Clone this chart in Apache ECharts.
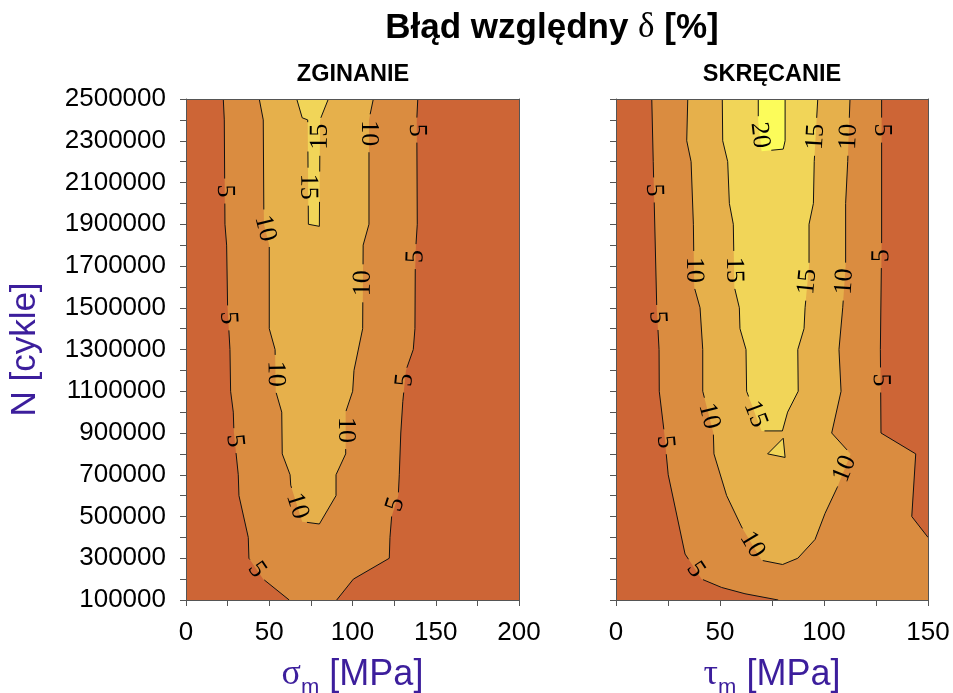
<!DOCTYPE html>
<html><head><meta charset="utf-8">
<script src="https://cdn.jsdelivr.net/npm/echarts@6/dist/echarts.min.js"></script>
<style>html,body{margin:0;padding:0;background:#fff}#c{width:953px;height:693px}</style>
</head><body><div id="c"></div>
<script>
// ---------- data ----------
const levels = [5, 10, 15, 20];
const bandColors = ['#CD6536', '#DA8C40', '#E6B04B', '#F1D558', '#FCFC5A'];
const nTickLabels = [100000, 300000, 500000, 700000, 900000, 1100000, 1300000, 1500000, 1700000, 1900000, 2100000, 2300000, 2500000];
const xTickLabelsZgin = [0, 50, 100, 150, 200];
const xTickLabelsSkr = [0, 50, 100, 150];

// ZGINANIE contour lines [sigma_m MPa, N cycles]
const zgin5 = [[22.4,2500000],[23.0,2400000],[23.4,1900000],[24.4,1800000],[25.0,1500000],[26.4,1300000],[26.8,1100000],[28.4,1000000],[28.8,900000],[31.4,700000],[31.8,600000],[37.4,400000],[37.8,300000],[46.4,200000],[62.0,100000],
  [90.5,100000],[100.5,200000],[122.1,300000],[122.5,400000],[123.5,500000],[127.5,600000],[128.1,700000],[129.0,900000],[130.2,1050000],[132.1,1200000],[136.5,1300000],[137.5,1400000],[137.7,1700000],[138.1,1800000],[138.9,1900000],[138.6,2400000],[139.2,2500000]];
const zgin10 = [[44.0,2500000],[46.4,2400000],[46.8,1900000],[50.0,1800000],[50.0,1400000],[53.5,1300000],[53.9,1100000],[57.5,1000000],[57.8,800000],[62.5,700000],[62.9,650000],[69.8,475000],[80.1,464000],
  [90.1,600000],[90.1,700000],[95.9,800000],[95.9,1000000],[100.1,1100000],[100.9,1200000],[106.1,1400000],[106.4,1800000],[109.9,1900000],[109.9,2400000],[112.5,2500000]];
const zgin15 = [[66.5,2500000],[69.8,2410000],[73.1,2400000],[73.5,1900000],[80.1,1890000],[80.5,2400000],[85.5,2500000]];

// SKRECANIE contour lines [tau_m MPa, N cycles]
const skr5 = [[17.2,2500000],[17.9,2200000],[19.6,1500000],[20.7,1300000],[20.8,1100000],[23.2,900000],[25.1,700000],[33.2,320000],[41.2,200000],[50.8,160000],[62.0,130000],[78.0,100000],
  [150,100000],[150,400000],[142.2,500000],[144.1,800000],[127.4,900000],[127.1,1300000],[127.7,1800000],[127.7,2500000]];
const skr10 = [[34.5,2500000],[34.0,2300000],[36.1,2200000],[37.2,1900000],[37.6,1600000],[40.4,1500000],[41.7,1300000],[41.7,1100000],[46.8,900000],[47.1,800000],[53.2,600000],[60.4,450000],[70.0,290000],[80.1,270000],[87.4,300000],[95.7,390000],[100.5,515000],[106.4,640000],[112.8,800000],[103.7,900000],[108.2,1100000],[107.2,1300000],[109.0,1500000],[110.4,1700000],[110.4,2000000],[111.4,2200000],[112.5,2500000]];
const skr15 = [[51.1,2500000],[51.3,2300000],[53.7,2200000],[54.5,2000000],[56.4,1900000],[56.9,1600000],[59.3,1500000],[59.6,1400000],[62.5,1300000],[62.8,1100000],[70.0,910000],[80.0,910000],[82.5,1000000],[87.6,1100000],[87.4,1300000],[90.4,1400000],[90.9,1500000],[92.8,1700000],[92.8,1900000],[94.9,2000000],[95.3,2200000],[97.0,2500000]];
const skr15b = [[72.9,800000],[80.4,875000],[81.3,783000]];
const skr20 = [[68.4,2500000],[68.4,2390000],[70.0,2250000],[80.4,2260000],[81.3,2300000],[81.3,2500000]];

// contour label anchors (approximate, snapped onto the line)
const zgin5Labels = [[22.8,2059000],[24.6,1451000],[27.6,862000],[42.5,244000],[139.3,2351000],[138.1,1745000],[130.9,1154000],[126.7,555000]];
const zgin10Labels = [[48.0,1881000],[109.9,2336000],[106.5,1617000],[53.5,1183000],[95.9,914000],[65.5,547000]];
const zgin15Labels = [[80.5,2319000],[73.1,2080000]];
const skr5Labels = [[17.3,2064000],[19.2,1453000],[23.6,858000],[38.0,244000],[127.7,2351000],[127.4,1750000],[127.4,1154000]];
const skr10Labels = [[37.2,1681000],[110.1,1625000],[112.5,2319000],[43.6,978000],[109.3,731000],[65.2,363000]];
const skr15Labels = [[95.7,2319000],[55.6,1681000],[91.7,1625000],[66.0,986000]];
const skr20Labels = [[69.2,2327000]];

// ---------- styling ----------
const PURPLE = '#3C1E9C';
const SANS = 'Liberation Sans, Arial, sans-serif';
const SERIF = 'Liberation Serif, Times New Roman, serif';
const LABEL_FS = 26;
const AXIS_COLOR = '#555';

function onEdge(a, b, cs) {
  const e = 0.8, L = cs.x, R = cs.x + cs.width, T = cs.y, B = cs.y + cs.height;
  return (Math.abs(a[0]-L)<e && Math.abs(b[0]-L)<e) || (Math.abs(a[0]-R)<e && Math.abs(b[0]-R)<e) ||
         (Math.abs(a[1]-T)<e && Math.abs(b[1]-T)<e) || (Math.abs(a[1]-B)<e && Math.abs(b[1]-B)<e);
}
function circleInt(a, b, c) {
  const dx = b[0]-a[0], dy = b[1]-a[1];
  const fx = a[0]-c.x, fy = a[1]-c.y;
  const A = dx*dx+dy*dy, Bq = 2*(fx*dx+fy*dy), C = fx*fx+fy*fy-c.r*c.r;
  const disc = Bq*Bq-4*A*C;
  if (A === 0 || disc <= 0) return null;
  const s = Math.sqrt(disc);
  const t1 = (-Bq - s)/(2*A), t2 = (-Bq + s)/(2*A);
  if (t2 <= 0 || t1 >= 1) return null;
  return [Math.max(0,t1), Math.min(1,t2)];
}
const lerp = (a,b,t) => [a[0]+(b[0]-a[0])*t, a[1]+(b[1]-a[1])*t];

function fillSeries(poly, color, gi) {
  return {
    type: 'custom', xAxisIndex: gi*2, yAxisIndex: gi*2, z: 2, silent: true, animation: false,
    data: poly,
    renderItem: (params, api) => {
      if (params.dataIndex !== 0) return null;
      return { type: 'polygon', shape: { points: poly.map(p => api.coord(p)) }, style: { fill: color, stroke: null } };
    }
  };
}

function lineSeries(poly, closed, labels, level, gi) {
  const text = String(level);
  return {
    type: 'custom', xAxisIndex: gi*2, yAxisIndex: gi*2, z: 3, silent: true, animation: false,
    data: poly,
    renderItem: (params, api) => {
      if (params.dataIndex !== 0) return null;
      const cs = params.coordSys;
      const pts = poly.map(p => api.coord(p));
      if (closed) pts.push(pts[0]);
      const labs = labels.map(l => {
        const c = api.coord(l);
        let best = null;
        for (let i = 0; i < pts.length-1; i++) {
          const a = pts[i], b = pts[i+1];
          if (onEdge(a,b,cs)) continue;
          const dx = b[0]-a[0], dy = b[1]-a[1], L2 = dx*dx+dy*dy;
          if (!L2) continue;
          let t = ((c[0]-a[0])*dx + (c[1]-a[1])*dy)/L2;
          t = Math.max(0, Math.min(1, t));
          const px = a[0]+t*dx, py = a[1]+t*dy;
          const d = (px-c[0])**2 + (py-c[1])**2;
          if (!best || d < best.d) best = { d, x: px, y: py, dx, dy };
        }
        let ang = Math.atan2(best.dy, best.dx);
        if (ang > Math.PI/2) ang -= Math.PI; else if (ang <= -Math.PI/2) ang += Math.PI;
        return { x: best.x, y: best.y, rot: -ang, r: LABEL_FS*0.25*text.length + 6 };
      });
      const lines = [];
      let cur = null;
      for (let i = 0; i < pts.length-1; i++) {
        const a = pts[i], b = pts[i+1];
        if (onEdge(a,b,cs)) { cur = null; continue; }
        const ivs = [];
        labs.forEach(lb => { const iv = circleInt(a,b,lb); if (iv) ivs.push(iv); });
        ivs.sort((p,q) => p[0]-q[0]);
        const keep = []; let s = 0;
        ivs.forEach(iv => { if (iv[0] > s) keep.push([s, iv[0]]); s = Math.max(s, iv[1]); });
        if (s < 1) keep.push([s, 1]);
        if (!keep.length) { cur = null; continue; }
        keep.forEach(k => {
          const p0 = lerp(a,b,k[0]), p1 = lerp(a,b,k[1]);
          if (cur && k[0] === 0) cur.push(p1);
          else { cur = [p0, p1]; lines.push(cur); }
          if (k[1] < 1) cur = null;
        });
      }
      const children = lines.map(l => ({ type: 'polyline', shape: { points: l }, style: { stroke: '#111', lineWidth: 1, fill: null } }));
      labs.forEach(lb => children.push({
        type: 'text', x: lb.x, y: lb.y, rotation: lb.rot,
        style: { text, fontSize: LABEL_FS, fontFamily: SERIF, fill: '#000', align: 'center', verticalAlign: 'middle', textAlign: 'center', textVerticalAlign: 'middle' }
      }));
      return { type: 'group', children };
    }
  };
}

function mainX(gi, max, labelsArr, name) {
  return {
    gridIndex: gi, type: 'value', min: 0, max, interval: 25, position: 'bottom', z: 5,
    axisLine: { show: true, onZero: false, lineStyle: { color: AXIS_COLOR, width: 1 } },
    axisTick: { show: true, inside: false, length: 6, lineStyle: { color: AXIS_COLOR } },
    axisLabel: { margin: 20, color: '#000', fontSize: 26, fontFamily: SANS, formatter: v => labelsArr.includes(v) ? String(v) : '' },
    splitLine: { show: false },
    name, nameLocation: 'middle', nameGap: 43,
    nameTextStyle: { color: PURPLE, fontSize: 36, fontFamily: SANS, lineHeight: 48,
      rich: { g: { fontSize: 36, fontFamily: SERIF, color: PURPLE, lineHeight: 48 },
              s: { fontSize: 22, fontFamily: SANS, color: PURPLE, verticalAlign: 'bottom', lineHeight: 22 },
              t: { fontSize: 36, fontFamily: SANS, color: PURPLE, lineHeight: 48 } } }
  };
}
function frameX(gi, max) {
  return { gridIndex: gi, type: 'value', min: 0, max, position: 'top', z: 5,
    axisLine: { show: true, onZero: false, lineStyle: { color: AXIS_COLOR } }, axisTick: { show: false }, axisLabel: { show: false }, splitLine: { show: false } };
}
function mainY(gi, showLabels) {
  return {
    gridIndex: gi, type: 'value', min: 100000, max: 2500000, interval: 100000, position: 'left', z: 5,
    axisLine: { show: true, onZero: false, lineStyle: { color: AXIS_COLOR } },
    axisTick: { show: true, inside: false, length: 6, lineStyle: { color: AXIS_COLOR } },
    axisLabel: { show: showLabels, margin: 20, color: '#000', fontSize: 26, fontFamily: SANS, formatter: v => nTickLabels.includes(v) ? String(v) : '' },
    splitLine: { show: false },
    name: showLabels ? 'N [cykle]' : '', nameLocation: 'middle', nameGap: 143, nameRotate: 90,
    nameTextStyle: { color: PURPLE, fontSize: 35, fontFamily: SANS }
  };
}
function frameY(gi) {
  return { gridIndex: gi, type: 'value', min: 100000, max: 2500000, position: 'right', z: 5,
    axisLine: { show: true, onZero: false, lineStyle: { color: AXIS_COLOR } }, axisTick: { show: false }, axisLabel: { show: false }, splitLine: { show: false } };
}

const series = [
  fillSeries(zgin5, bandColors[1], 0), fillSeries(zgin10, bandColors[2], 0), fillSeries(zgin15, bandColors[3], 0),
  lineSeries(zgin5, false, zgin5Labels, levels[0], 0), lineSeries(zgin10, false, zgin10Labels, levels[1], 0), lineSeries(zgin15, false, zgin15Labels, levels[2], 0),
  fillSeries(skr5, bandColors[1], 1), fillSeries(skr10, bandColors[2], 1), fillSeries(skr15, bandColors[3], 1), fillSeries(skr15b, bandColors[3], 1), fillSeries(skr20, bandColors[4], 1),
  lineSeries(skr5, false, skr5Labels, levels[0], 1), lineSeries(skr10, false, skr10Labels, levels[1], 1), lineSeries(skr15, false, skr15Labels, levels[2], 1),
  lineSeries(skr15b, true, [], levels[2], 1), lineSeries(skr20, false, skr20Labels, levels[3], 1)
];

const chart = echarts.init(document.getElementById('c'), null, { renderer: 'canvas' });
chart.setOption({
  animation: false,
  backgroundColor: '#fff',
  grid: [
    { left: 186, top: 99, width: 333, height: 501, show: true, backgroundColor: bandColors[0], borderWidth: 0, containLabel: false, outerBoundsMode: 'none' },
    { left: 616, top: 99, width: 312, height: 501, show: true, backgroundColor: bandColors[0], borderWidth: 0, containLabel: false, outerBoundsMode: 'none' }
  ],
  xAxis: [
    mainX(0, 200, xTickLabelsZgin, '{g|σ}{s|m}{t| [MPa]}'), frameX(0, 200),
    mainX(1, 150, xTickLabelsSkr, '{g|τ}{s|m}{t| [MPa]}'), frameX(1, 150)
  ],
  yAxis: [ mainY(0, true), frameY(0), mainY(1, false), frameY(1) ],
  graphic: [
    { type: 'text', x: 552, y: 28, style: { text: 'Błąd względny {d|δ} [%]', fontSize: 35, fontWeight: 'bold', fontFamily: SANS, fill: '#000', align: 'center', verticalAlign: 'middle', textAlign: 'center', textVerticalAlign: 'middle',
      rich: { d: { fontSize: 35, fontWeight: 'normal', fontFamily: SERIF } } } },
    { type: 'text', x: 353, y: 75, style: { text: 'ZGINANIE', fontSize: 23.5, fontWeight: 'bold', fontFamily: SANS, fill: '#000', align: 'center', verticalAlign: 'middle', textAlign: 'center', textVerticalAlign: 'middle' } },
    { type: 'text', x: 772, y: 75, style: { text: 'SKRĘCANIE', fontSize: 23.5, fontWeight: 'bold', fontFamily: SANS, fill: '#000', align: 'center', verticalAlign: 'middle', textAlign: 'center', textVerticalAlign: 'middle' } }
  ],
  series
});
</script></body></html>
